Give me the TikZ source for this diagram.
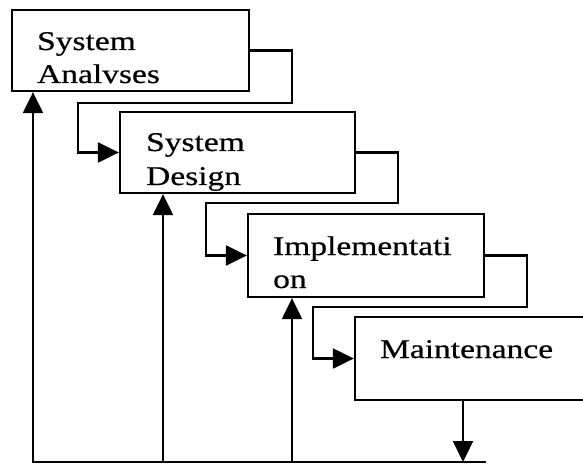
\documentclass[tikz,border=0pt]{standalone}
\usepackage{fontspec}
\setmainfont{Liberation Serif}[FakeStretch=1.24,FakeBold=0.6]
\usetikzlibrary{arrows.meta}
\begin{document}
\begin{tikzpicture}[x=1pt,y=1pt,
  line width=2.3pt,
  box/.style={draw, rectangle, minimum width=#1, inner sep=0pt, line width=2.3pt},
  txt/.style={anchor=base west, inner sep=0pt, font=\fontsize{27}{33}\selectfont},
  arr/.style={-{Triangle[length=21pt,width=20pt]}, line width=2.3pt}]
\useasboundingbox (0,0) rectangle (583,464);
\clip (0,0) rectangle (583,464);
% boxes
\node[box=237pt, minimum height=81pt] (b1) at (130.5,413.5) {};
\node[box=235pt, minimum height=81pt] (b2) at (237.5,311.5) {};
\node[box=236pt, minimum height=83pt] (b3) at (366,208.5) {};
\node[box=250pt, minimum height=83pt] (b4) at (480,105.5) {};
% texts
\node[txt] (t1a) at (36,414) {System};
\node[txt] (t1b) at (36,381) {Analvses};
\node[txt] (t2a) at (145,313) {System};
\node[txt] (t2b) at (145,279) {Design};
\node[txt] (t3a) at (272,209) {Implementati};
\node[txt] (t3b) at (272,176) {on};
\node[txt] (t4a) at (379,106) {Maintenance};
% forward connectors
\draw[arr] (b1.east) -| (292,361) -- (78,361) |- (b2.west);
\draw[arr] (b2.east) -| (398,261) -- (206,261) |- (b3.west);
\draw[arr] (b3.east) -| (527,157) -- (313,157) |- (b4.west);
% feedback
\coordinate (bl) at (33,2);
\coordinate (br) at (485,2);
\coordinate (f2) at (163,2);
\coordinate (f3) at (292,2);
\coordinate (f4) at (463,2);
\draw[line cap=rect] (bl) -- (br);
\draw[arr] (b4.south -| f4) -- (f4);
\draw[arr] (bl) -- (b1.south -| bl);
\draw[arr] (f2) -- (b2.south -| f2);
\draw[arr] (f3) -- (b3.south -| f3);
\end{tikzpicture}
\end{document}
